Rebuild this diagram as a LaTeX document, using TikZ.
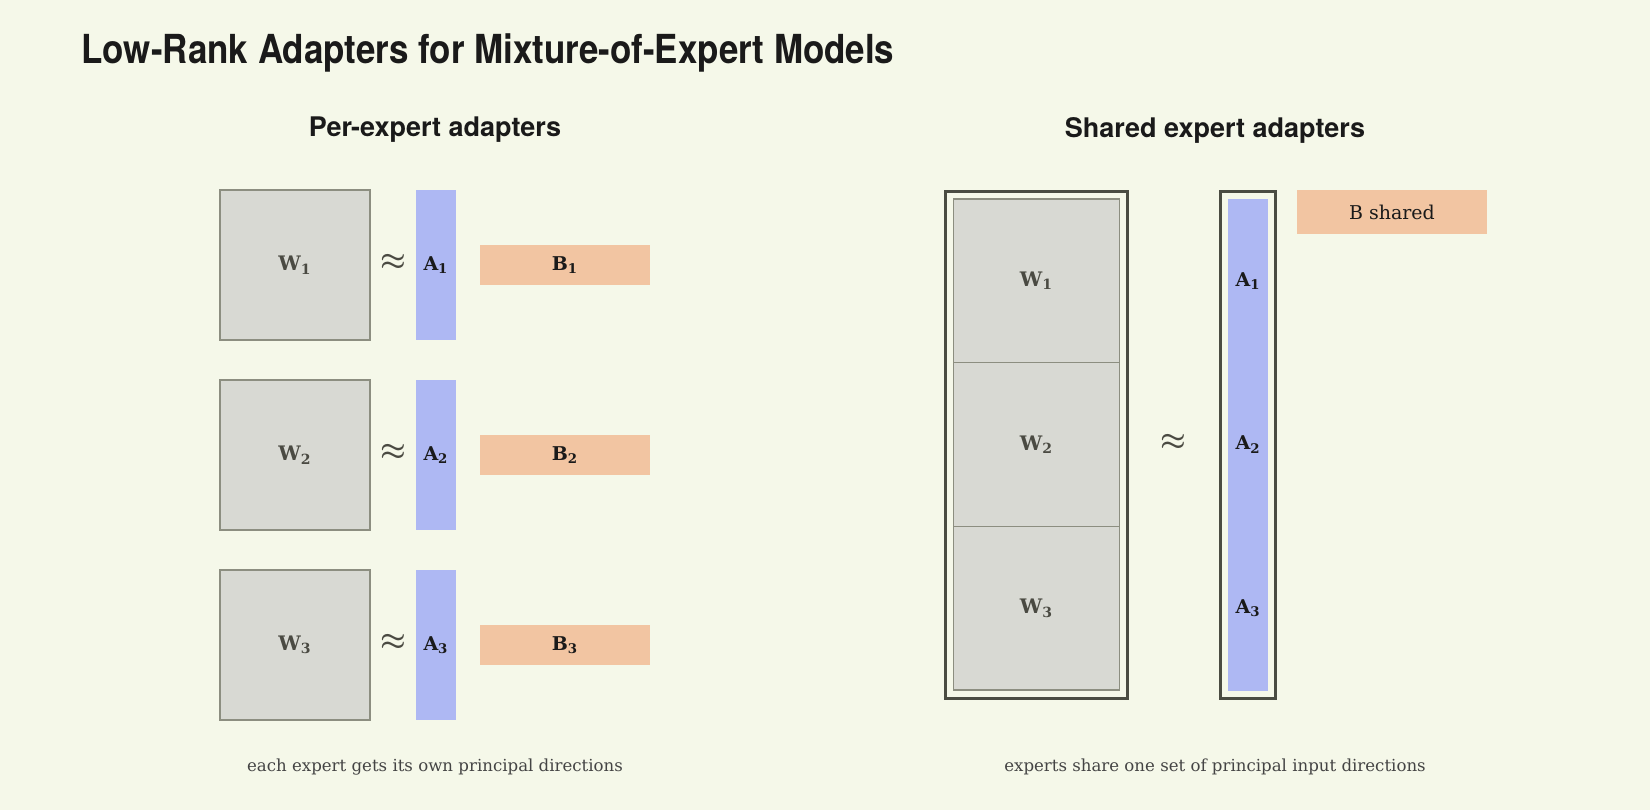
\documentclass[tikz,border=0pt]{standalone}
\usepackage{fontspec}
\usepackage{graphicx}
\setmainfont{DejaVu Serif}
\newfontfamily\headfont{TeX Gyre Heros}
\usetikzlibrary{positioning}

\definecolor{paper}{HTML}{F5F8E9}
\definecolor{wgrey}{HTML}{D8D9D3}
\definecolor{wedge}{HTML}{8C8E80}
\definecolor{ablue}{HTML}{AEB8F3}
\definecolor{bpeach}{HTML}{F2C5A2}
\definecolor{framegrey}{HTML}{4A4C42}
\definecolor{ink}{HTML}{1A1A1A}
\definecolor{wink}{HTML}{4A4A42}
\definecolor{capink}{HTML}{444444}

\tikzset{
	wbox/.style={draw=wedge, line width=0.6pt, fill=wgrey, inner sep=0pt, text=wink, font=\fontsize{10}{12}\selectfont\bfseries},
	abox/.style={fill=ablue, inner sep=0pt, minimum width=20pt, text=ink, font=\fontsize{9.5}{11}\selectfont\bfseries},
	bbox/.style={fill=bpeach, inner sep=0pt, minimum width=85pt, minimum height=20pt, text=ink, font=\fontsize{9.5}{11}\selectfont\bfseries},
	approx/.style={text=wink, inner sep=0pt, font=\fontsize{15}{17}\selectfont\boldmath},
	heading/.style={text=ink, inner sep=0pt, font=\headfont\bfseries\fontsize{13.5}{16}\selectfont},
	caption/.style={text=capink, inner sep=0pt, font=\fontsize{8.3}{10}\selectfont},
	outline/.style={draw=framegrey, line width=1.5pt},
}

\begin{document}
\begin{tikzpicture}[x=0.5pt, y=-0.5pt]
		%%%%% START %%%%%
		
		\fill[paper] (0, 0) rectangle (1650, 810);
		\useasboundingbox (0, 0) rectangle (1650, 810);
		
		\node[anchor=base west, inner sep=0pt, text=ink, font=\headfont\bfseries\fontsize{20}{24}\selectfont] (title) at (81, 63) {\resizebox{406.5pt}{\height}{Low-Rank Adapters for Mixture-of-Expert Models}};
		
		\node[heading] (lefthead) at (435, 130) {Per-expert adapters};
		\node[heading] (righthead) at (1215, 130) {Shared expert adapters};
		
		% per-expert rows
		\node[wbox, minimum width=75pt, minimum height=75pt] (w1) at (295, 265) {W\textsubscript{1}};
		\node[approx] (ap1) at (393, 262) {$\approx$};
		\node[abox, minimum height=75pt] (a1) at (436, 265) {A\textsubscript{1}};
		\node[bbox] (b1) at (565, 265) {B\textsubscript{1}};
		
		\node[wbox, minimum width=75pt, minimum height=75pt] (w2) at (295, 455) {W\textsubscript{2}};
		\node[approx] (ap2) at (393, 452) {$\approx$};
		\node[abox, minimum height=75pt] (a2) at (436, 455) {A\textsubscript{2}};
		\node[bbox] (b2) at (565, 455) {B\textsubscript{2}};
		
		\node[wbox, minimum width=75pt, minimum height=75pt] (w3) at (295, 645) {W\textsubscript{3}};
		\node[approx] (ap3) at (393, 642) {$\approx$};
		\node[abox, minimum height=75pt] (a3) at (436, 645) {A\textsubscript{3}};
		\node[bbox] (b3) at (565, 645) {B\textsubscript{3}};
		
		% shared adapters
		\draw[outline] (945.5, 191.5) rectangle (1127.5, 698.5);
		\node[wbox, minimum width=83pt, minimum height=81.83pt] (sw1) at (1036.5, 280.85) {W\textsubscript{1}};
		\node[wbox, minimum width=83pt, minimum height=81.83pt] (sw2) at (1036.5, 444.5) {W\textsubscript{2}};
		\node[wbox, minimum width=83pt, minimum height=81.83pt] (sw3) at (1036.5, 608.15) {W\textsubscript{3}};
		
		\node[approx] (sap) at (1173, 442) {$\approx$};
		
		\draw[outline] (1220.5, 191.5) rectangle (1275.5, 698.5);
		\node[abox, minimum height=246pt] (sa) at (1248, 445) {};
		\node[text=ink, inner sep=0pt, font=\fontsize{9.5}{11}\selectfont\bfseries] (sa1) at (1248, 281) {A\textsubscript{1}};
		\node[text=ink, inner sep=0pt, font=\fontsize{9.5}{11}\selectfont\bfseries] (sa2) at (1248, 444.5) {A\textsubscript{2}};
		\node[text=ink, inner sep=0pt, font=\fontsize{9.5}{11}\selectfont\bfseries] (sa3) at (1248, 608) {A\textsubscript{3}};
		
		\node[bbox, minimum width=95pt, minimum height=22pt, font=\fontsize{9.5}{11}\selectfont] (sb) at (1392, 212) {B shared};
		
		\node[caption] (leftcap) at (435, 767) {each expert gets its own principal directions};
		\node[caption] (rightcap) at (1215, 767) {experts share one set of principal input directions};
		
		%%%%% END %%%%%
	\end{tikzpicture}
\end{document}
